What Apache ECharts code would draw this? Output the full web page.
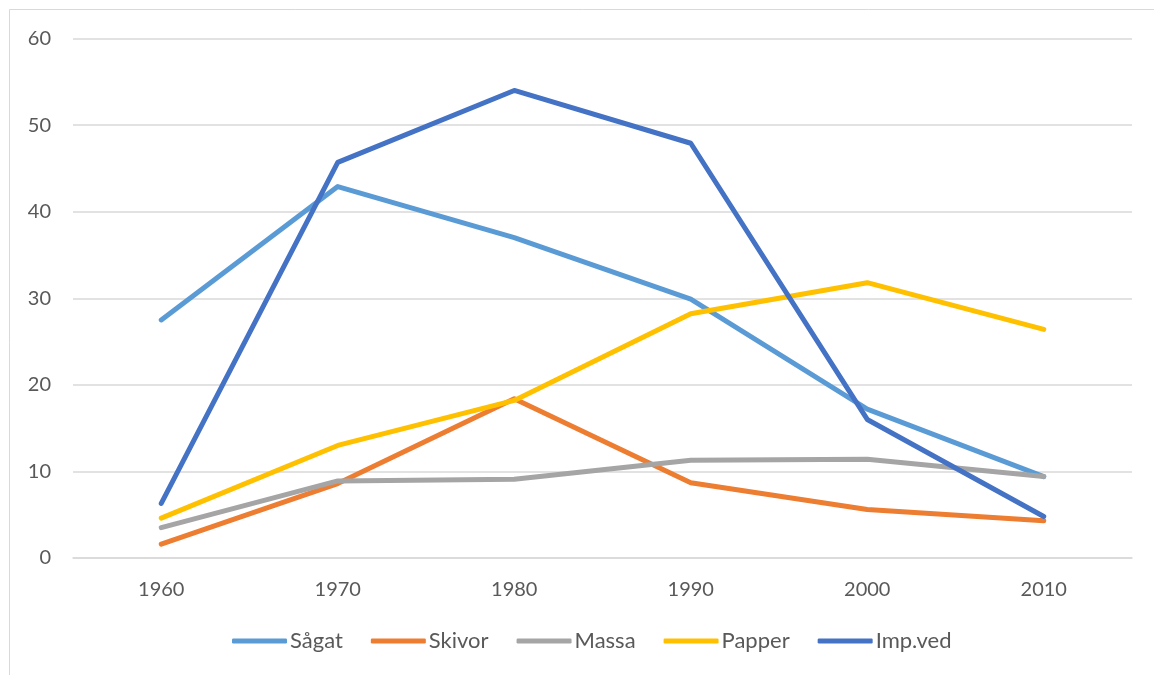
<!DOCTYPE html>
<html>
<head>
<meta charset="utf-8">
<script src="https://cdn.jsdelivr.net/npm/echarts@6/dist/echarts.min.js"></script>
<style>
html,body{margin:0;padding:0;background:#fff;}
#chart{width:1154px;height:675px;}
</style>
</head>
<body>
<div id="chart"></div>
<script>
const categories = ['1960', '1970', '1980', '1990', '2000', '2010'];
const sagat   = [27.5, 42.9, 37.0, 29.9, 17.2, 9.4];
const skivor  = [1.6, 8.6, 18.4, 8.7, 5.6, 4.3];
const massa   = [3.5, 8.9, 9.1, 11.3, 11.4, 9.4];
const papper  = [4.6, 13.0, 18.2, 28.2, 31.8, 26.4];
const impved  = [6.3, 45.7, 54.0, 47.9, 16.0, 4.8];
const seriesNames = ['Sågat', 'Skivor', 'Massa', 'Papper', 'Imp.ved'];
const colors = ['#5B9BD5', '#ED7D31', '#A5A5A5', '#FFC000', '#4472C4'];
const yTicks = { min: 0, max: 60, interval: 10 };

const dataList = [sagat, skivor, massa, papper, impved];
const font = 'Lato, "Open Sans", sans-serif';

const chart = echarts.init(document.getElementById('chart'), null, { renderer: 'canvas' });
chart.setOption({
  animation: false,
  backgroundColor: '#fff',
  graphic: [{
    type: 'rect',
    shape: { x: 9.5, y: 9.5, width: 1200, height: 700 },
    style: { fill: 'none', stroke: '#D9D9D9', lineWidth: 1 },
    silent: true
  }],
  grid: { left: 73, right: 22, top: 38.5, bottom: 117, containLabel: false },
  legend: {
    left: 227,
    bottom: 18,
    itemWidth: 55,
    itemHeight: 5,
    itemGap: 28,
    icon: 'roundRect',
    textStyle: { color: '#595959', fontSize: 22, fontFamily: font, padding: [0, 0, 0, -2] },
    data: seriesNames
  },
  xAxis: {
    type: 'category',
    data: categories,
    boundaryGap: true,
    axisLine: { show: true, lineStyle: { color: '#D9D9D9', width: 1.5 } },
    axisTick: { show: false },
    axisLabel: { color: '#595959', fontSize: 20, fontFamily: font, margin: 22 },
    splitLine: { show: false }
  },
  yAxis: {
    type: 'value',
    min: yTicks.min, max: yTicks.max, interval: yTicks.interval,
    axisLine: { show: false },
    axisTick: { show: false },
    axisLabel: { color: '#595959', fontSize: 20, fontFamily: font, margin: 22 },
    splitLine: { lineStyle: { color: '#D9D9D9', width: 1.5 } }
  },
  series: seriesNames.map((name, i) => ({
    name: name,
    type: 'line',
    data: dataList[i],
    symbol: 'none',
    lineStyle: { color: colors[i], width: 5, cap: 'round', join: 'round' },
    itemStyle: { color: colors[i] }
  }))
});
</script>
</body>
</html>
